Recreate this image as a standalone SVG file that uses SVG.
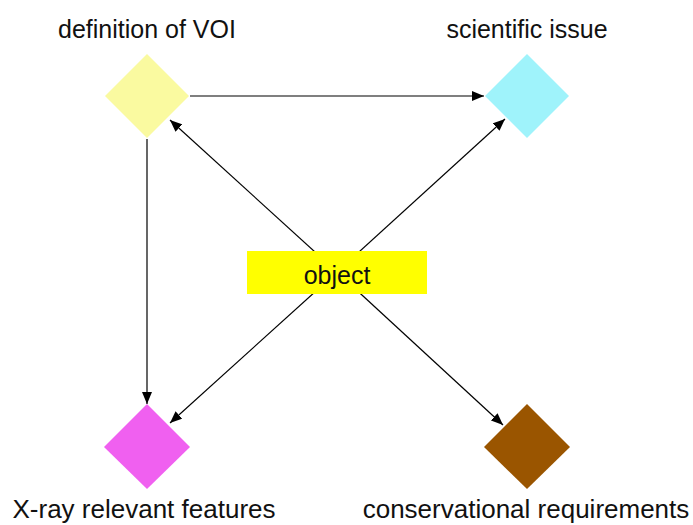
<svg xmlns="http://www.w3.org/2000/svg" width="693" height="525" viewBox="0 0 693 525">
<style>
.lbl{font-family:"Liberation Sans",Arial,sans-serif;font-size:25px;fill:#111;text-anchor:middle}
.big{font-size:26px}
.ln{stroke:#000;stroke-width:1.2;fill:none;marker-end:url(#ah)}
</style>
<defs>
<marker id="ah" viewBox="0 0 12 10" refX="12" refY="5" markerWidth="12" markerHeight="10" markerUnits="userSpaceOnUse" orient="auto">
<path d="M0,0 L12,5 L0,10 Z" fill="#000"/>
</marker>
</defs>
<rect width="693" height="525" fill="#fff"/>
<g id="connectors">
<line class="ln" x1="190" y1="96" x2="484" y2="96"/>
<line class="ln" x1="147" y1="139" x2="147" y2="404"/>
<line class="ln" x1="337" y1="272" x2="170" y2="120"/>
<line class="ln" x1="337" y1="272" x2="505" y2="119"/>
<line class="ln" x1="337" y1="272" x2="170" y2="423"/>
<line class="ln" x1="337" y1="272" x2="503" y2="425"/>
</g>
<g id="object">
<rect x="247" y="251" width="180" height="43" fill="#ffff00"/>
<text class="lbl" x="337" y="284">object</text>
</g>
<g id="voi">
<polygon points="147,54 189,96 147,138 105,96" fill="#fafaa0"/>
<text class="lbl" x="147" y="38">definition of VOI</text>
</g>
<g id="scientific">
<polygon points="527,54 569,96 527,138 485,96" fill="#9ff3fb"/>
<text class="lbl" x="527" y="38">scientific issue</text>
</g>
<g id="xray">
<polygon points="147,404 190,447 147,489 104,447" fill="#f060f0"/>
<text class="lbl big" x="144" y="518">X-ray relevant features</text>
</g>
<g id="conservation">
<polygon points="527,404 570,447 527,489 484,447" fill="#9a5500"/>
<text class="lbl big" x="526" y="518">conservational requirements</text>
</g>
</svg>
